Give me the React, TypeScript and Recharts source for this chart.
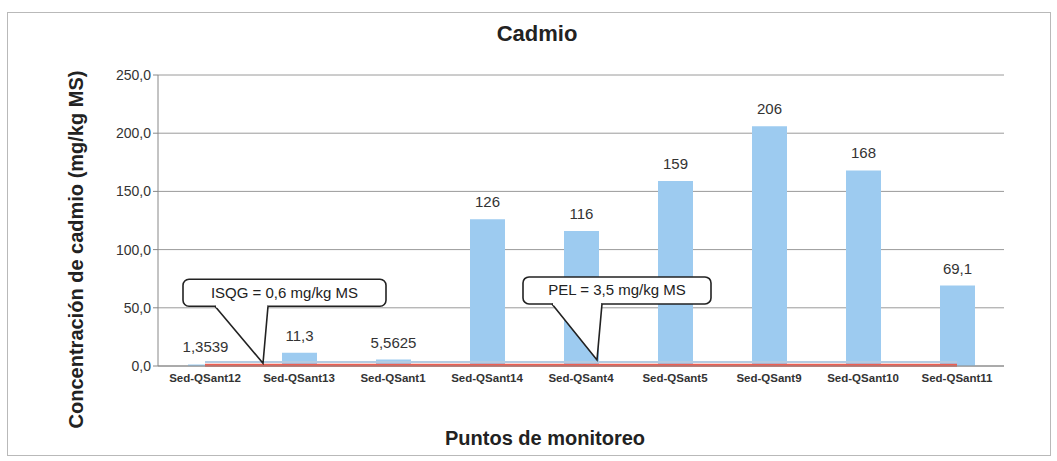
import React from "react";
import {
  ComposedChart,
  Bar,
  Line,
  XAxis,
  YAxis,
  CartesianGrid,
  LabelList,
  ReferenceDot,
  Label,
} from "recharts";

const categories = [
  "Sed-QSant12",
  "Sed-QSant13",
  "Sed-QSant1",
  "Sed-QSant14",
  "Sed-QSant4",
  "Sed-QSant5",
  "Sed-QSant9",
  "Sed-QSant10",
  "Sed-QSant11",
];
const cadmio = [1.3539, 11.3, 5.5625, 126, 116, 159, 206, 168, 69.1];
const isqgValue = 0.6;
const pelValue = 3.5;
const yTicks = [0, 50, 100, 150, 200, 250];

const data = categories.map((name, i) => ({
  name,
  cadmio: cadmio[i],
  isqg: isqgValue,
  pel: pelValue,
}));

const font = "'Liberation Sans', Arial, sans-serif";
const comma = (v: any) => String(v).replace(".", ",");

// callout box with a pointer whose tip sits on the reference point
function Callout(props: any) {
  const { cx, cy, text, dx, left, right, top, bottom, baseL, baseR } = props;
  if (cx == null || cy == null) return null;
  const tx = cx + dx;
  const ty = cy - 2;
  const x0 = tx + left;
  const x1 = tx + right;
  const y0 = ty + top;
  const y1 = ty + bottom;
  return (
    <g>
      <rect x={x0} y={y0} width={x1 - x0} height={y1 - y0} rx={6} fill="#fff" stroke="#222" strokeWidth={1.6} />
      <path d={`M${tx + baseL},${y1} L${tx},${ty} L${tx + baseR},${y1}`} fill="#fff" stroke="#222" strokeWidth={1.6} />
      <line x1={tx + baseL + 1} y1={y1} x2={tx + baseR - 1} y2={y1} stroke="#fff" strokeWidth={2.5} />
      <text x={(x0 + x1) / 2} y={(y0 + y1) / 2 + 5} textAnchor="middle" fontSize={15} fill="#222" fontFamily={font}>
        {text}
      </text>
    </g>
  );
}

function YTitle(props: any) {
  const { viewBox } = props;
  const x = viewBox.x - 12;
  const y = viewBox.y + viewBox.height / 2 + 29;
  return (
    <text
      x={x}
      y={y}
      transform={`rotate(-90 ${x} ${y})`}
      textAnchor="middle"
      dominantBaseline="central"
      fontSize={20}
      fontWeight="bold"
      fill="#222"
      fontFamily={font}
    >
      Concentración de cadmio (mg/kg MS)
    </text>
  );
}

export default function App() {
  return (
    <div style={{ position: "absolute", left: 0, top: 0, width: 1057, height: 461, background: "#fff", fontFamily: font }}>
      <div style={{ position: "absolute", left: 7, top: 12, width: 1042, height: 442, border: "1px solid #b9b9b9" }} />
      <div style={{ position: "absolute", left: 0, top: 21, width: 1074, textAlign: "center", fontSize: 22, fontWeight: "bold", color: "#222" }}>
        Cadmio
      </div>
      <div style={{ position: "absolute", left: 0, top: 427, width: 1090, textAlign: "center", fontSize: 20, fontWeight: "bold", color: "#222" }}>
        Puntos de monitoreo
      </div>
      <ComposedChart
        width={1057}
        height={461}
        data={data}
        margin={{ top: 75, right: 53, bottom: 65, left: 88 }}
        style={{ position: "absolute", left: 0, top: 0 }}
      >
        <CartesianGrid vertical={false} stroke="#9a9a9a" />
        <XAxis
          dataKey="name"
          height={30}
          tickLine={false}
          axisLine={{ stroke: "#888" }}
          tick={{ fontSize: 11.5, fontWeight: "bold", fill: "#333", fontFamily: font }}
          interval={0}
        />
        <YAxis
          width={70}
          domain={[0, 250]}
          ticks={yTicks}
          tickFormatter={(v: number) => v.toFixed(1).replace(".", ",")}
          tick={{ fontSize: 14, fill: "#333", fontFamily: font }}
          axisLine={{ stroke: "#888" }}
          tickLine={{ stroke: "#888" }}
          tickSize={5}
        >
          <Label content={<YTitle />} position="insideLeft" />
        </YAxis>
        <Bar dataKey="cadmio" fill="#9dcbf0" barSize={35} isAnimationActive={false}>
          <LabelList dataKey="cadmio" position="top" offset={12} formatter={comma} style={{ fontSize: 15, fill: "#333", fontFamily: font }} />
        </Bar>
        <Line dataKey="isqg" stroke="#ee5e52" strokeWidth={3} dot={false} isAnimationActive={false} />
        <Line dataKey="pel" stroke="#b3cbe2" strokeWidth={2} dot={false} isAnimationActive={false} />
        <ReferenceDot
          x={categories[0]}
          y={isqgValue}
          shape={(p: any) => (
            <Callout {...p} text="ISQG = 0,6 mg/kg MS" dx={58} left={-80} right={123} top={-84} bottom={-57} baseL={-48} baseR={5} />
          )}
        />
        <ReferenceDot
          x={categories[4]}
          y={pelValue}
          shape={(p: any) => (
            <Callout {...p} text="PEL = 3,5 mg/kg MS" dx={16} left={-74} right={114} top={-83} bottom={-56} baseL={-45} baseR={5} />
          )}
        />
      </ComposedChart>
    </div>
  );
}
